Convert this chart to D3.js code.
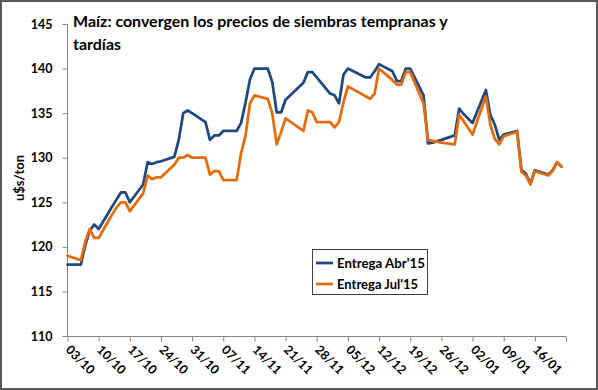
<!DOCTYPE html>
<html><head><meta charset="utf-8">
<script src="https://cdn.jsdelivr.net/npm/d3@7"></script>
<style>
html,body{margin:0;padding:0;background:#fff;}
svg{display:block;font-family:Lato,"Open Sans",sans-serif;font-weight:bold;}
</style></head>
<body><svg id="c" width="598" height="390"></svg>
<script>
const title1 = "Maíz: convergen los precios de siembras tempranas y";
const title2 = "tardías";
const yLabel = "u$s/ton";
const seriesNames = ["Entrega Abr'15", "Entrega Jul'15"];
const seriesColors = ["#1F497D", "#E46C0A"];

const dates = ["03/10","06/10","07/10","08/10","09/10","10/10","13/10","14/10","15/10","16/10","17/10",
"20/10","21/10","22/10","23/10","24/10","27/10","28/10","29/10","30/10","31/10",
"03/11","04/11","05/11","06/11","07/11","10/11","11/11","12/11","13/11","14/11",
"17/11","18/11","19/11","20/11","21/11","25/11","26/11","27/11","28/11",
"01/12","02/12","03/12","04/12","05/12","09/12","10/12","11/12","12/12",
"15/12","16/12","17/12","18/12","19/12","22/12","23/12","24/12","26/12",
"29/12","30/12","31/12","02/01","05/01","06/01","07/01","08/01","09/01",
"12/01","13/01","14/01","15/01","16/01","19/01","20/01","21/01","22/01"];

const abr15 = [118.0,118.0,120.2,121.8,122.5,122.0,124.5,125.3,126.1,126.1,125.0,
127.0,129.5,129.3,129.5,129.6,130.1,132.0,135.0,135.3,135.0,
134.0,132.0,132.5,132.5,133.0,133.0,133.9,136.2,138.8,140.0,
140.0,138.5,135.1,135.1,136.5,138.4,139.6,139.6,139.0,
137.2,137.0,136.1,139.3,140.0,139.0,139.0,139.7,140.5,
139.7,138.6,138.6,140.0,140.0,137.0,131.6,131.7,132.0,
132.5,135.5,134.9,133.9,137.6,134.8,133.7,132.0,132.6,
133.0,128.6,128.2,127.1,128.6,128.1,128.6,129.5,129.0];

const jul15 = [119.0,118.5,120.6,122.0,121.0,121.0,123.6,124.4,125.0,125.0,124.0,
126.0,128.0,127.6,127.8,127.8,129.2,130.0,130.0,130.3,130.0,
130.0,128.1,128.5,128.5,127.5,127.5,130.5,132.5,136.1,137.0,
136.6,135.0,131.5,132.9,134.4,133.0,135.3,135.1,134.0,
134.0,133.4,134.0,136.2,138.0,136.9,136.6,137.2,140.0,
138.7,138.2,138.2,139.6,139.6,136.1,132.0,131.9,131.7,
131.5,134.8,134.1,132.6,136.9,133.7,132.1,131.5,132.4,
132.9,128.4,128.0,127.0,128.5,128.0,128.5,129.5,129.0];

const xTickLabels = ["03/10","10/10","17/10","24/10","31/10","07/11","14/11","21/11","28/11",
"05/12","12/12","19/12","26/12","02/01","09/01","16/01",""];
const yTicks = [110,115,120,125,130,135,140,145];

function parseDate(s){
  const [d,m] = s.split("/").map(Number);
  return new Date(m >= 10 ? 2014 : 2015, m-1, d);
}
const xTickDates = xTickLabels.map((s,i)=> s ? parseDate(s) : d3.timeDay.offset(parseDate(xTickLabels[i-1]),7));

const svg = d3.select("#c");
svg.append("rect").attr("x",1).attr("y",1).attr("width",596).attr("height",388)
  .attr("fill","#fff").attr("stroke","#595959").attr("stroke-width",2);

const x = d3.scaleTime().domain([xTickDates[0], xTickDates[xTickDates.length-1]]).range([67.5, 566]);
const y = d3.scaleLinear().domain([110,145]).range([336,24]);

// y axis
const ya = svg.append("g").attr("transform","translate(67.5,0)")
  .call(d3.axisLeft(y).tickValues(yTicks).tickSize(5).tickPadding(10));
ya.select(".domain").attr("stroke","#868686").attr("d","M0,24V336");
ya.selectAll(".tick line").attr("stroke","#868686");
ya.selectAll(".tick text").attr("font-size",12.5).attr("font-weight","bold").attr("fill","#000")
  .attr("font-family","Lato");

// x axis
const xa = svg.append("g").attr("transform","translate(0,336.5)")
  .call(d3.axisBottom(x).tickValues(xTickDates).tickSize(5)
    .tickFormat((d,i)=>xTickLabels[i]));
xa.select(".domain").attr("stroke","#868686").attr("d","M67.5,0H566");
xa.selectAll(".tick line").attr("stroke","#868686");
xa.selectAll(".tick text").attr("font-size",12.5).attr("font-weight","bold").attr("fill","#000")
  .attr("font-family","Lato")
  .attr("text-anchor","start").attr("y",0).attr("dy","0.35em")
  .attr("transform","translate(0,11) rotate(45)");

// lines
const series = [abr15, jul15].map(vals => vals.map((v,i)=>({date: parseDate(dates[i]), v})));
const line = d3.line().x(d=>x(d.date)).y(d=>y(d.v));
series.forEach((s,k)=>{
  svg.append("path").datum(s).attr("d",line).attr("fill","none")
    .attr("stroke",seriesColors[k]).attr("stroke-width",2.75)
    .attr("stroke-linejoin","round").attr("stroke-linecap","round");
});

// title
function fit(sel, w){ const l = sel.node().getComputedTextLength(); const fs = +sel.attr("font-size"); sel.attr("font-size", fs*w/l); }
const t1 = svg.append("text").attr("x",73).attr("y",27).attr("font-size",18).attr("fill","#000").text(title1);
fit(t1, 375);
svg.append("text").attr("x",73).attr("y",50).attr("font-size",t1.attr("font-size")).attr("fill","#000").text(title2);

// y label
svg.append("text").attr("transform","translate(24,178) rotate(-90)").attr("text-anchor","middle")
  .attr("font-size",13).attr("fill","#000").text(yLabel);

// legend
const lg = svg.append("g");
lg.append("rect").attr("x",312.5).attr("y",249.5).attr("width",115).attr("height",45)
  .attr("fill","#fff").attr("stroke","#404040").attr("stroke-width",1);
seriesNames.forEach((n,k)=>{
  const yy = 263 + k*21;
  lg.append("line").attr("x1",316).attr("x2",333).attr("y1",yy).attr("y2",yy)
    .attr("stroke",seriesColors[k]).attr("stroke-width",2.75);
  const t = lg.append("text").attr("x",337).attr("y",yy+4.5).attr("font-size",13).attr("fill","#000").text(n);
  if(k===0) fit(t, 88);
});
</script></body></html>
